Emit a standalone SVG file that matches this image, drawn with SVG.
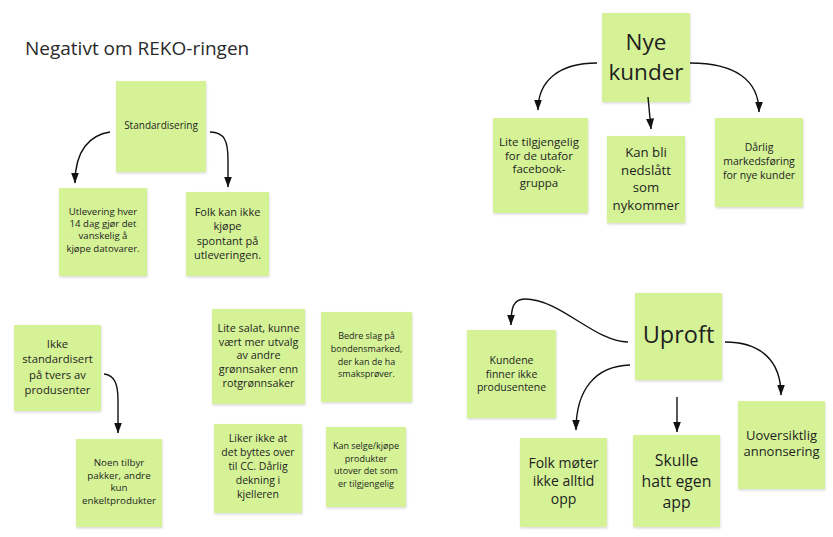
<svg xmlns="http://www.w3.org/2000/svg" width="833" height="537" viewBox="0 0 833 537">
<style>
  .bg { fill: #ffffff; }
  .note { fill: #d5f297; filter: url(#sh); }
  text { font-family: "Open Sans", "Noto Sans", "DejaVu Sans", sans-serif; fill: #1f1f1f; text-anchor: middle; }
  .title { text-anchor: start; fill: #2a2a2a; font-size: 19px; }
  .conn path { fill: none; stroke: #111; stroke-width: 1.4; marker-end: url(#ah); }
</style>
<defs>
  <filter id="sh" x="-10%" y="-10%" width="125%" height="130%">
    <feDropShadow dx="0.5" dy="1.5" stdDeviation="1.2" flood-color="#000" flood-opacity="0.14"/>
  </filter>
  <marker id="ah" markerWidth="11" markerHeight="8" refX="10.5" refY="4" orient="auto" markerUnits="userSpaceOnUse">
    <path d="M0,0 L11,4 L0,8 z" fill="#111"/>
  </marker>
</defs>
<rect class="bg" x="0" y="0" width="833" height="537"/>
<text class="title" x="25" y="55">Negativt om REKO-ringen</text>

<g id="standardisering">
  <rect class="note" x="116" y="81" width="90" height="91"/>
  <text x="161" y="128.5" font-size="10">Standardisering</text>
</g>
<g id="utlevering">
  <rect class="note" x="59" y="188" width="88" height="88"/>
  <text x="103" font-size="9.6"><tspan x="103" y="214.5">Utlevering hver</tspan><tspan x="103" y="226.8">14 dag gjør det</tspan><tspan x="103" y="239.1">vanskelig å</tspan><tspan x="103" y="251.5">kjøpe datovarer.</tspan></text>
</g>
<g id="folk-kan-ikke">
  <rect class="note" x="186" y="192" width="83" height="84"/>
  <text font-size="11"><tspan x="227.5" y="215.5">Folk kan ikke</tspan><tspan x="227.5" y="230">kjøpe</tspan><tspan x="227.5" y="244.5">spontant på</tspan><tspan x="227.5" y="259">utleveringen.</tspan></text>
</g>
<g id="nye-kunder">
  <rect class="note" x="602" y="13" width="88" height="89"/>
  <text font-size="22.5"><tspan x="646" y="49.5">Nye</tspan><tspan x="646" y="80">kunder</tspan></text>
</g>
<g id="lite-tilgjengelig">
  <rect class="note" x="493" y="118" width="95" height="95"/>
  <text font-size="11.5"><tspan x="539" y="145.7">Lite tilgjengelig</tspan><tspan x="539" y="159.5">for de utafor</tspan><tspan x="539" y="173.3">facebook-</tspan><tspan x="539" y="187">gruppa</tspan></text>
</g>
<g id="kan-bli">
  <rect class="note" x="607" y="136" width="78" height="87"/>
  <text font-size="13.2"><tspan x="646" y="157">Kan bli</tspan><tspan x="646" y="174.5">nedslått</tspan><tspan x="646" y="192">som</tspan><tspan x="646" y="209.5">nykommer</tspan></text>
</g>
<g id="darlig">
  <rect class="note" x="715" y="118" width="88" height="89"/>
  <text font-size="10.5"><tspan x="759" y="150.5">Dårlig</tspan><tspan x="759" y="164.5">markedsføring</tspan><tspan x="759" y="178.5">for nye kunder</tspan></text>
</g>
<g id="ikke-standardisert">
  <rect class="note" x="14" y="325" width="87" height="86"/>
  <text font-size="11.3"><tspan x="57.5" y="347.5">Ikke</tspan><tspan x="57.5" y="363">standardisert</tspan><tspan x="57.5" y="378.5">på tvers av</tspan><tspan x="57.5" y="394">produsenter</tspan></text>
</g>
<g id="noen-tilbyr">
  <rect class="note" x="76" y="439" width="86" height="88"/>
  <text font-size="9.8"><tspan x="119" y="466">Noen tilbyr</tspan><tspan x="119" y="478.5">pakker, andre</tspan><tspan x="119" y="491">kun</tspan><tspan x="119" y="503.5">enkeltprodukter</tspan></text>
</g>
<g id="lite-salat">
  <rect class="note" x="212" y="309" width="93" height="95"/>
  <text font-size="10.8"><tspan x="258.5" y="331.7">Lite salat, kunne</tspan><tspan x="258.5" y="345.5">vært mer utvalg</tspan><tspan x="258.5" y="359.2">av andre</tspan><tspan x="258.5" y="373">grønnsaker enn</tspan><tspan x="258.5" y="386.7">rotgrønnsaker</tspan></text>
</g>
<g id="bedre-slag">
  <rect class="note" x="321" y="312" width="91" height="90"/>
  <text font-size="9"><tspan x="366.5" y="339">Bedre slag på</tspan><tspan x="366.5" y="351.8">bondensmarked,</tspan><tspan x="366.5" y="364.5">der kan de ha</tspan><tspan x="366.5" y="377.3">smaksprøver.</tspan></text>
</g>
<g id="liker-ikke">
  <rect class="note" x="214" y="424" width="88" height="89"/>
  <text font-size="10.5"><tspan x="258" y="442">Liker ikke at</tspan><tspan x="258" y="456">det byttes over</tspan><tspan x="258" y="470">til CC. Dårlig</tspan><tspan x="258" y="484">dekning i</tspan><tspan x="258" y="498">kjelleren</tspan></text>
</g>
<g id="kan-selge">
  <rect class="note" x="326" y="427" width="80" height="80"/>
  <text font-size="9"><tspan x="366" y="449.3">Kan selge/kjøpe</tspan><tspan x="366" y="461.8">produkter</tspan><tspan x="366" y="474.2">utover det som</tspan><tspan x="366" y="486.7">er tilgjengelig</tspan></text>
</g>
<g id="uproft">
  <rect class="note" x="635" y="293" width="87" height="87"/>
  <text x="678.5" y="343.3" font-size="23.5">Uproft</text>
</g>
<g id="kundene">
  <rect class="note" x="467" y="330" width="89" height="88"/>
  <text font-size="10.5"><tspan x="511.5" y="364.3">Kundene</tspan><tspan x="511.5" y="377.8">finner ikke</tspan><tspan x="511.5" y="391.3">produsentene</tspan></text>
</g>
<g id="folk-moter">
  <rect class="note" x="520" y="438" width="87" height="89"/>
  <text font-size="14"><tspan x="563.5" y="467.5">Folk møter</tspan><tspan x="563.5" y="486">ikke alltid</tspan><tspan x="563.5" y="504.3">opp</tspan></text>
</g>
<g id="skulle">
  <rect class="note" x="633" y="435" width="87" height="92"/>
  <text font-size="15.8"><tspan x="676.5" y="466">Skulle</tspan><tspan x="676.5" y="487">hatt egen</tspan><tspan x="676.5" y="508">app</tspan></text>
</g>
<g id="uoversiktlig">
  <rect class="note" x="738" y="401" width="87" height="88"/>
  <text font-size="13"><tspan x="781.5" y="439.5">Uoversiktlig</tspan><tspan x="781.5" y="456">annonsering</tspan></text>
</g>

<g id="connectors" class="conn">
  <path d="M110,132 C90,135 75,150 75,183"/>
  <path d="M210,132 C225,132 228,142 228,160 L228,187"/>
  <path d="M597,63 C560,63 538,80 538,110"/>
  <path d="M648,97 L651,129"/>
  <path d="M690,63 C735,63 759,80 759,112"/>
  <path d="M104,374 C115,375 118,385 118,400 L118,433"/>
  <path d="M628,342 C595,342 560,299 525,299 C513,299 511,308 511,325"/>
  <path d="M630,365 C595,366 576,390 576,430"/>
  <path d="M677,397 L677,432"/>
  <path d="M725,342 C760,342 781,360 781,395"/>
</g>
</svg>
